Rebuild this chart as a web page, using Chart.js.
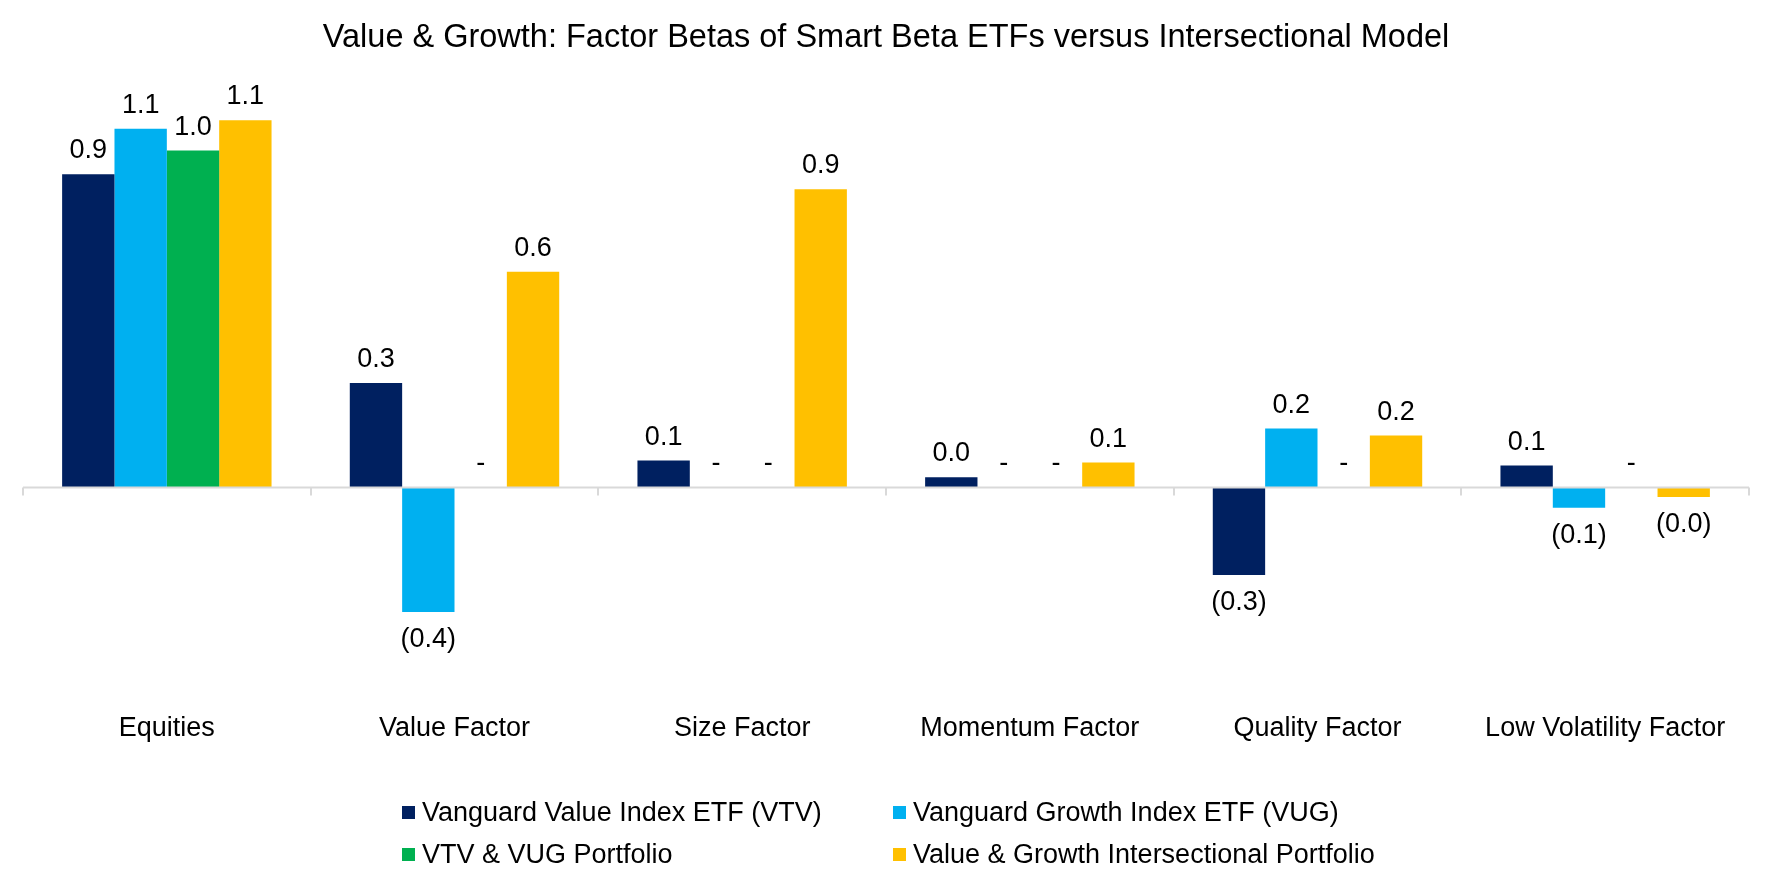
<!DOCTYPE html>
<html>
<head>
<meta charset="utf-8">
<script src="https://cdn.jsdelivr.net/npm/chart.js@4/dist/chart.umd.min.js"></script>
<style>
  html, body { margin: 0; padding: 0; background: #fff; }
  #wrap { position: relative; width: 1771px; height: 886px; }
  #chart { position: absolute; left: 0; top: 0; }
  #legend {
    position: absolute; left: 402px; top: 792px;
    display: grid; grid-template-columns: 491px auto;
    font-family: "Liberation Sans", Arial, sans-serif; font-size: 27px; color: #000;
    line-height: 41.5px;
  }
  #legend .item { display: flex; align-items: center; white-space: nowrap; }
  #legend .box { width: 13px; height: 13px; margin-right: 7px; flex: none; }
</style>
</head>
<body>
<div id="wrap">
  <canvas id="chart" width="1771" height="886"></canvas>
  <div id="legend"></div>
</div>
<script>
var categories = ['Equities', 'Value Factor', 'Size Factor', 'Momentum Factor', 'Quality Factor', 'Low Volatility Factor'];
var seriesNames = ['Vanguard Value Index ETF (VTV)', 'Vanguard Growth Index ETF (VUG)', 'VTV & VUG Portfolio', 'Value & Growth Intersectional Portfolio'];
var vtv = [0.93, 0.31, 0.08, 0.03, -0.26, 0.065];
var vug = [1.065, -0.37, 0, 0, 0.175, -0.06];
var vtvVug = [1.0, 0, 0, 0, 0, 0];
var intersectional = [1.09, 0.64, 0.885, 0.074, 0.154, -0.028];
var colors = ['#002060', '#00B0F0', '#00B050', '#FFC000'];

var font = '"Liberation Sans", Arial, sans-serif';

function fmt(v) {
    if (v === 0) return '-';
    var s = Math.abs(v).toFixed(1);
    return v < 0 ? '(' + s + ')' : s;
}

// zero line with small tick marks between categories
var zeroAxis = {
    id: 'zeroAxis',
    afterDatasetsDraw: function (chart) {
        var x = chart.scales.x, y = chart.scales.y, area = chart.chartArea;
        var y0 = y.getPixelForValue(0);
        var step = x.getPixelForValue(1) - x.getPixelForValue(0);
        var ctx = chart.ctx;
        ctx.save();
        ctx.strokeStyle = '#D9D9D9';
        ctx.lineWidth = 2;
        ctx.beginPath();
        ctx.moveTo(area.left, y0);
        ctx.lineTo(area.right, y0);
        for (var i = 0; i <= categories.length; i++) {
            var px = Math.round(x.getPixelForValue(i) - step / 2);
            ctx.moveTo(px, y0);
            ctx.lineTo(px, y0 + 8);
        }
        ctx.stroke();
        ctx.restore();
    }
};

var barLabels = {
    id: 'barLabels',
    afterDatasetsDraw: function (chart) {
        var ctx = chart.ctx;
        ctx.save();
        ctx.font = '27px ' + font;
        ctx.fillStyle = '#000';
        ctx.textAlign = 'center';
        ctx.textBaseline = 'alphabetic';
        chart.data.datasets.forEach(function (ds, i) {
            chart.getDatasetMeta(i).data.forEach(function (bar, j) {
                var v = ds.data[j];
                var ty = v < 0 ? bar.y + 35 : bar.y - 16;
                ctx.fillText(fmt(v), bar.x, ty);
            });
        });
        ctx.restore();
    }
};

var chart = new Chart(document.getElementById('chart'), {
    type: 'bar',
    data: {
        labels: categories,
        datasets: [
            { label: seriesNames[0], data: vtv, backgroundColor: colors[0] },
            { label: seriesNames[1], data: vug, backgroundColor: colors[1] },
            { label: seriesNames[2], data: vtvVug, backgroundColor: colors[2] },
            { label: seriesNames[3], data: intersectional, backgroundColor: colors[3] }
        ]
    },
    options: {
        responsive: false,
        animation: false,
        devicePixelRatio: 1,
        layout: { padding: { left: 23, right: 22, top: 0, bottom: 118 } },
        datasets: { bar: { categoryPercentage: 0.728, barPercentage: 1.0 } },
        scales: {
            x: {
                grid: { display: false, drawTicks: false },
                border: { display: false },
                ticks: { color: '#000', font: { family: font, size: 27 }, padding: 23 }
            },
            y: { display: false, min: -0.6, max: 1.2 }
        },
        plugins: {
            legend: { display: false },
            tooltip: { enabled: false },
            title: {
                display: true,
                text: 'Value & Growth: Factor Betas of Smart Beta ETFs versus Intersectional Model',
                color: '#000',
                font: { family: font, size: 32.5, weight: 'normal' },
                padding: { top: 18.5, bottom: 25.7 }
            }
        }
    },
    plugins: [zeroAxis, barLabels]
});

var legend = document.getElementById('legend');
chart.data.datasets.forEach(function (ds) {
    var item = document.createElement('div');
    item.className = 'item';
    var box = document.createElement('span');
    box.className = 'box';
    box.style.background = ds.backgroundColor;
    var txt = document.createElement('span');
    txt.textContent = ds.label;
    item.appendChild(box);
    item.appendChild(txt);
    legend.appendChild(item);
});
</script>
</body>
</html>
